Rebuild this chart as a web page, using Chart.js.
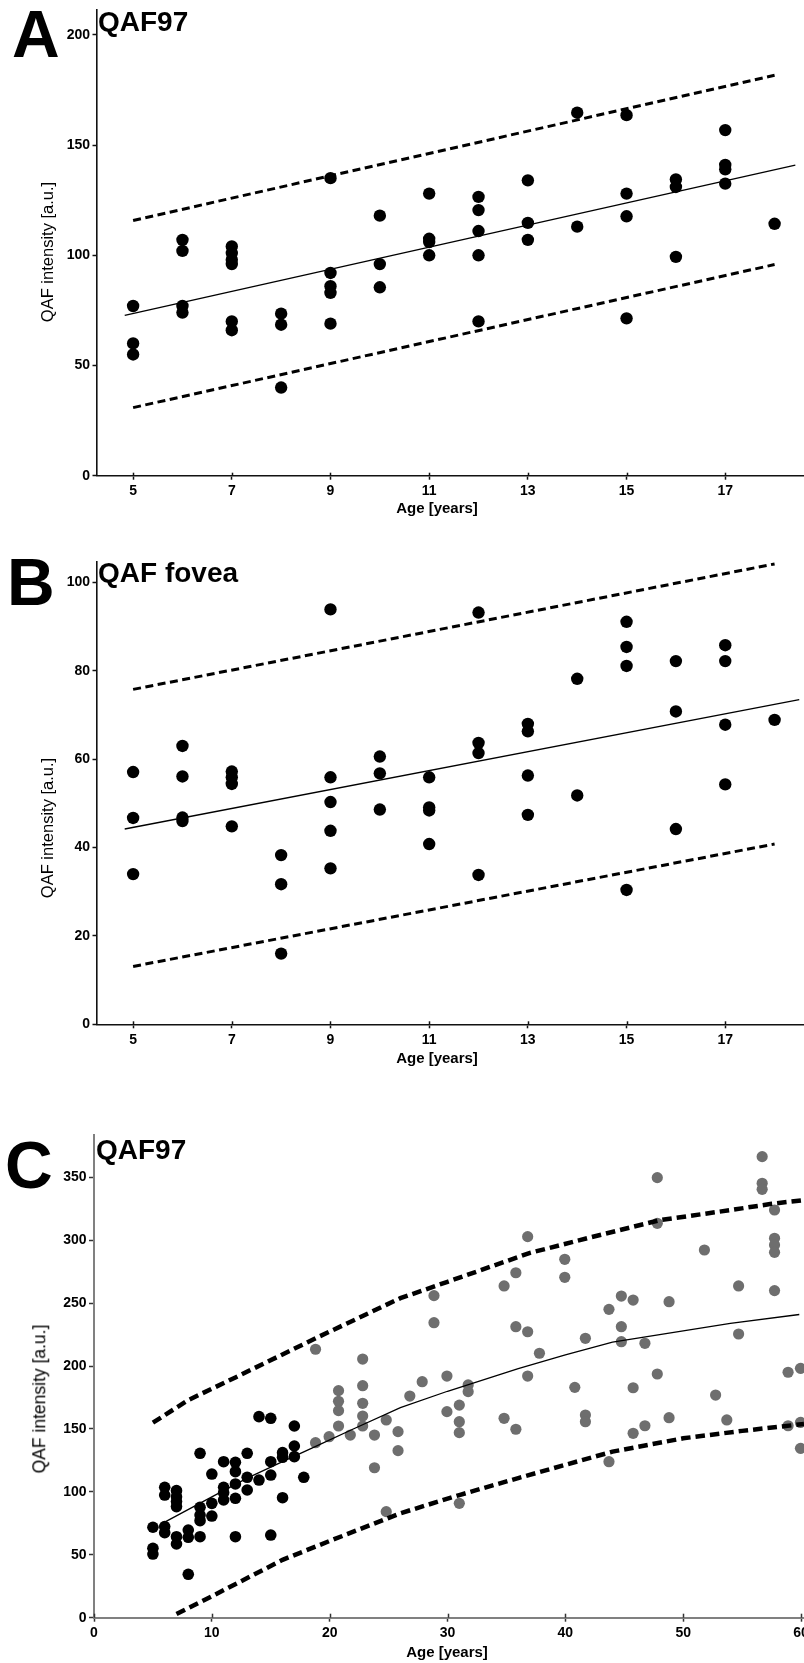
<!DOCTYPE html>
<html>
<head>
<meta charset="utf-8">
<script src="https://cdn.jsdelivr.net/npm/chart.js@4.4.1/dist/chart.umd.min.js"></script>
<style>
html,body{margin:0;padding:0;background:#fff;width:804px;height:1663px;overflow:hidden;position:relative;font-family:"Liberation Sans",Arial,Helvetica,sans-serif;}
canvas{position:absolute;left:0;}
.t{position:absolute;white-space:nowrap;line-height:1;color:#000;}
.letter{font-weight:bold;font-size:66px;}
.title{font-weight:bold;font-size:28px;}
.xt{font-weight:bold;font-size:15px;transform:translateX(-50%);}
.yt{font-size:16.5px;transform:translate(-50%,-50%) rotate(-90deg);}
</style>
</head>
<body>
<canvas id="cA" width="804" height="510" style="top:0px;width:804px;height:510px"></canvas>
<canvas id="cB" width="804" height="540" style="top:520px;width:804px;height:540px"></canvas>
<canvas id="cC" width="804" height="563" style="top:1100px;width:804px;height:563px"></canvas>

<div class="t letter" style="left:12px;top:1.4px">A</div>
<div class="t title" style="left:98px;top:8.3px">QAF97</div>
<div class="t yt" style="left:46.5px;top:252px">QAF intensity [a.u.]</div>
<div class="t xt" style="left:437px;top:500px">Age [years]</div>

<div class="t letter" style="left:7px;top:549.4px">B</div>
<div class="t title" style="left:98px;top:559.3px">QAF fovea</div>
<div class="t yt" style="left:46.5px;top:828px">QAF intensity [a.u.]</div>
<div class="t xt" style="left:437px;top:1049.7px">Age [years]</div>

<div class="t letter" style="left:5px;top:1132px">C</div>
<div class="t title" style="left:96px;top:1136.3px">QAF97</div>
<div class="t yt" style="left:40px;top:1398.5px;font-size:17.5px">QAF intensity [a.u.]</div>
<div class="t xt" style="left:447px;top:1644px">Age [years]</div>

<script>
// ---------------- Panel A : QAF97 (children) ----------------
const aAges = [5,5,5, 6,6,6,6, 7,7,7,7,7,7, 8,8,8, 9,9,9,9,9, 10,10,10, 11,11,11,11, 12,12,12,12,12, 13,13,13, 14,14, 15,15,15,15, 16,16,16, 17,17,17,17, 18];
const aValues = [77,60,55, 107,102,77,74, 104,101,98,96,70,66, 73.5,68.5,40, 135,92,86,83,69, 118,96,85.5, 128,107.5,106,100, 126.5,120.5,111,100,70, 134,114.7,107, 164.7,113, 163.6,128,117.7,71.4, 134.4,131,99.3, 156.8,141,139,132.5, 114.3];
const aFitX = [4.83, 18.42];
const aFitY = [72.7, 140.9];
const aUpperX = [5, 18];
const aUpperY = [115.8, 181.7];
const aLowerX = [5, 18];
const aLowerY = [30.9, 95.8];
const aXTicks = [5, 7, 9, 11, 13, 15, 17];
const aYTicks = [0, 50, 100, 150, 200];

// ---------------- Panel B : QAF fovea (children) ----------------
const bAges = [5,5,5, 6,6,6,6, 7,7,7,7, 8,8,8, 9,9,9,9,9, 10,10,10, 11,11,11,11, 12,12,12,12, 13,13,13,13, 14,14, 15,15,15,15, 16,16,16, 17,17,17,17, 18];
const bValues = [57.1,46.7,34.0, 63.0,56.1,46.8,46.0, 57.2,55.9,54.4,44.8, 38.3,31.7,16.0, 93.9,55.9,50.3,43.8,35.3, 60.6,56.8,48.6, 55.9,49.1,48.4,40.8, 93.2,63.7,61.4,33.8, 68.0,66.3,56.3,47.4, 78.2,51.8, 91.1,85.4,81.1,30.4, 82.2,70.8,44.2, 85.8,82.2,67.8,54.3, 68.9];
const bFitX = [4.83, 18.5];
const bFitY = [44.2, 73.5];
const bUpperX = [5, 18];
const bUpperY = [75.8, 104.2];
const bLowerX = [5, 18];
const bLowerY = [13.1, 40.8];
const bXTicks = [5, 7, 9, 11, 13, 15, 17];
const bYTicks = [0, 20, 40, 60, 80, 100];

// ---------------- Panel C : QAF97 (children + adults) ----------------
const cChildAges = [5,5,5, 6,6,6,6, 7,7,7,7,7,7, 8,8,8, 9,9,9,9,9, 10,10,10, 11,11,11,11, 12,12,12,12,12, 13,13,13, 14,14, 15,15,15,15, 16,16,16, 17,17,17, 17.8];
const cChildValues = [71.9,55.2,50.6, 103.6,97.5,72.5,67.6, 101,96.2,92.3,88.3,64.4,58.6, 69.7,63.9,34.5, 130.7,87.7,81.6,77.1,64.4, 114.2,90.9,80.8, 124,103.6,99.4,93.6, 123.5,116.1,106.3,94.9,64.4, 130.7,111.6,101.5, 159.8,109.4, 158.5,124,113.4,65.7, 131.2,127.5,95.4, 152.4,136.5,128, 111.6];
const cAdultAges = [18.8,18.8, 19.95, 20.75,20.75,20.75,20.75, 21.75, 22.8,22.8,22.8,22.8,22.8, 23.8,23.8, 24.8,24.8, 25.8,25.8, 26.8, 27.85, 28.85,28.85, 29.95,29.95, 31,31,31,31, 31.75,31.75, 34.8,34.8, 35.8,35.8,35.8, 36.8,36.8,36.8, 37.8, 39.95,39.95, 40.8, 41.7,41.7,41.7, 43.7,43.7, 44.75,44.75,44.75, 45.75,45.75,45.75, 46.75,46.75, 47.8,47.8,47.8, 48.8,48.8, 51.8, 52.75, 53.7, 54.7,54.7, 56.7,56.7,56.7, 57.75,57.75,57.75,57.75,57.75, 58.9,58.9, 59.95,59.95,59.95];
const cAdultValues = [213.4,139.1, 143.9, 180.5,172,164.6,152.4, 145.2, 205.6,184.4,170.4,160.3,152.4, 145.2,119.2, 157.2,84.3, 147.9,132.8, 176.2, 187.6, 256,234.5, 192.1,163.8, 169,155.8,147.1,90.9, 185,179.7, 263.7,158.5, 274.2,231.3,149.8, 302.9,227.3,192.1, 210.2, 284.9,270.6, 183.1, 222.1,161.1,155.8, 245.1,124, 255.7,231.3,219.4, 252.5,182.8,146.6, 218.1,152.6, 349.8,313.5,193.7, 251.2,159, 292.3, 177, 157.2, 263.7,225.5, 366.5,345.3,340.5, 324.1,301.6,296.3,290.4,260, 195.1,152.6, 198.2,155.2,134.6];
const cFitX = [6, 10, 13, 16, 19, 22, 26, 30, 36, 40, 44, 48, 54, 59.85];
const cFitY = [76, 96, 111, 124, 137, 150, 167, 180, 198, 209, 219, 225, 234, 241];
const cUpperX = [5, 8, 12, 19, 26, 30, 37, 42, 48, 54, 57.5, 60.25];
const cUpperY = [155, 173, 191, 223, 254, 267, 290, 302, 316, 324, 329, 332];
const cLowerX = [7, 10, 16, 20, 26, 31, 36, 44, 50, 55, 60.25];
const cLowerY = [3, 17, 46, 61, 83, 97.5, 111, 132, 142.6, 148.5, 154];
const cXTicks = [0, 10, 20, 30, 40, 50, 60];
const cYTicks = [0, 50, 100, 150, 200, 250, 300, 350];

// ---------------- helpers ----------------
const FONT = '"Liberation Sans", Arial, Helvetica, sans-serif';
function pts(xs, ys) { return xs.map((x, i) => ({x: x, y: ys[i]})); }

const innerTicks = {
  id: 'innerTicks',
  afterDraw(chart, args, opts) {
    const len = opts.len || 0;
    if (!len) return;
    const s = chart.scales.x, ctx = chart.ctx, b = chart.chartArea.bottom;
    ctx.save();
    ctx.strokeStyle = opts.color;
    ctx.lineWidth = opts.width;
    s.ticks.forEach(t => {
      const x = Math.round(s.getPixelForValue(t.value)) + 0.5;
      ctx.beginPath(); ctx.moveTo(x, b); ctx.lineTo(x, b - len); ctx.stroke();
    });
    ctx.restore();
  }
};

function panel(id, o) {
  const datasets = [
    {data: pts(o.fitX, o.fitY), showLine: true, borderColor: '#000', borderWidth: 1.3, pointRadius: 0, fill: false},
    {data: pts(o.upX, o.upY), showLine: true, borderColor: '#000', borderWidth: o.dashW, borderDash: o.dash, pointRadius: 0, fill: false},
    {data: pts(o.loX, o.loY), showLine: true, borderColor: '#000', borderWidth: o.dashW, borderDash: o.dash, pointRadius: 0, fill: false}
  ];
  o.points.forEach(p => datasets.push({data: pts(p.x, p.y), showLine: false, pointRadius: p.r, pointHoverRadius: p.r, pointBackgroundColor: p.color, pointBorderWidth: 0, borderColor: p.color}));
  const tickFont = {family: FONT, size: 14, weight: 'bold'};
  new Chart(document.getElementById(id), {
    type: 'scatter',
    data: {datasets: datasets},
    plugins: [innerTicks],
    options: {
      responsive: false, animation: false, devicePixelRatio: 1,
      layout: {autoPadding: false, padding: {left: 0, right: 0, top: o.padTop, bottom: 0}},
      plugins: {legend: {display: false}, tooltip: {enabled: false}, innerTicks: {len: o.inLen, color: o.tickColor, width: 1.5}},
      scales: {
        x: {
          type: 'linear', min: o.xMin, max: o.xMax,
          afterBuildTicks: s => { s.ticks = o.xTicks.map(v => ({value: v})); },
          afterFit: s => { s.height = o.xH; s.paddingLeft = 0; s.paddingRight = 0; },
          grid: {drawOnChartArea: false, drawTicks: true, tickLength: 4, color: o.tickColor, tickColor: o.tickColor, tickWidth: 1.5},
          border: {display: true, color: o.axisColor, width: o.axisW},
          ticks: {color: '#000', font: tickFont, padding: 3, maxRotation: 0, autoSkip: false}
        },
        y: {
          type: 'linear', min: 0, max: o.yMax,
          afterBuildTicks: s => { s.ticks = o.yTicks.map(v => ({value: v})); },
          afterFit: s => { s.width = o.yW; s.paddingTop = 0; s.paddingBottom = 0; },
          grid: {drawOnChartArea: false, drawTicks: true, tickLength: o.yTickLen, color: o.tickColor, tickColor: o.tickColor, tickWidth: 1.5},
          border: {display: true, color: o.axisColor, width: o.axisW},
          ticks: {color: '#000', font: tickFont, padding: 2.5, autoSkip: false}
        }
      }
    }
  });
}

panel('cA', {
  fitX: aFitX, fitY: aFitY, upX: aUpperX, upY: aUpperY, loX: aLowerX, loY: aLowerY,
  points: [{x: aAges, y: aValues, r: 6.2, color: '#000'}],
  dashW: 3, dash: [8, 4.5], xMin: 4.258, xMax: 18.596, yMax: 211.3, xTicks: aXTicks, yTicks: aYTicks,
  padTop: 10, xH: 34.3, yW: 96.5, yTickLen: 4, inLen: 3, tickColor: '#111', axisColor: '#111', axisW: 1.6
});
panel('cB', {
  fitX: bFitX, fitY: bFitY, upX: bUpperX, upY: bUpperY, loX: bLowerX, loY: bLowerY,
  points: [{x: bAges, y: bValues, r: 6.2, color: '#000'}],
  dashW: 3, dash: [8, 4.5], xMin: 4.258, xMax: 18.596, yMax: 104.7, xTicks: bXTicks, yTicks: bYTicks,
  padTop: 41.7, xH: 35.7, yW: 96.5, yTickLen: 4, inLen: 3, tickColor: '#111', axisColor: '#111', axisW: 1.6
});
panel('cC', {
  fitX: cFitX, fitY: cFitY, upX: cUpperX, upY: cUpperY, loX: cLowerX, loY: cLowerY,
  points: [{x: cAdultAges, y: cAdultValues, r: 5.6, color: '#6e6e6e'}, {x: cChildAges, y: cChildValues, r: 5.8, color: '#000'}],
  dashW: 4.5, dash: [9.5, 5], xMin: 0, xMax: 60.25, yMax: 383.7, xTicks: cXTicks, yTicks: cYTicks,
  padTop: 35, xH: 45.3, yW: 94, yTickLen: 5, inLen: 4, tickColor: '#333', axisColor: '#808080', axisW: 2
});
</script>
</body>
</html>
